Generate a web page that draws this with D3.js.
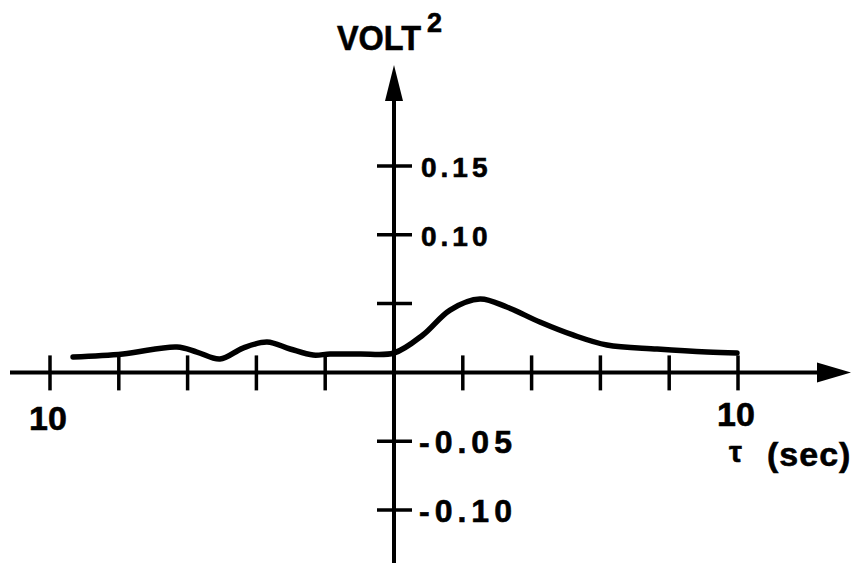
<!DOCTYPE html>
<html lang="en">
    <head>
        <meta charset="UTF-8">
        <script src="https://d3js.org/d3.v7.min.js"></script>
        <style>
            body { margin: 0; background: #fff; }
            svg { display: block; }
            text {
                font-family: "Liberation Sans", Arial, sans-serif;
                font-weight: bold;
                fill: #000;
                stroke: #000;
                stroke-width: 0.6;
            }
            .axis-line { stroke: #000; stroke-width: 4; fill: none; }
            .tick-mark { stroke: #000; stroke-width: 3.5; }
            .curve {
                fill: none;
                stroke: #000;
                stroke-width: 5.5;
                stroke-linecap: round;
                stroke-linejoin: round;
            }
        </style>
    </head>
    <body>
        <svg width="853" height="563"></svg>

        <script>
            // lag (sec) and correlation value (volt^2)
            const tau = [-9.33, -7.88, -6.31, -5.73, -5.06, -4.39, -3.69, -3.02, -2.35, -1.86, -0.99, 0,
                         0.84, 1.63, 2.50, 3.28, 4.24, 5.20, 6.19, 7.65, 9.10, 9.97];
            const volt2 = [0.0112, 0.0134, 0.0185, 0.0148, 0.0097, 0.0177, 0.0221, 0.0170, 0.0126, 0.0134, 0.0134, 0.0141,
                           0.0272, 0.0453, 0.0533, 0.0475, 0.0366, 0.0272, 0.0199, 0.0170, 0.0148, 0.0141];

            // axis ticks
            const xTicks = [-10, -8, -6, -4, -2, 0, 2, 4, 6, 8, 10];
            const xTickLabels = [{ t: -10, label: "10" }, { t: 10, label: "10" }];
            const yTicks = [0.15, 0.10, 0.05, -0.05, -0.10];
            const yTickLabels = ["0.15", "0.10", "", "-0.05", "-0.10"];

            const svg = d3.select("svg");

            const x = d3.scaleLinear().domain([-10, 10]).range([50, 738]);
            const y = d3.scaleLinear().domain([-0.10, 0.15]).range([510, 166]);

            const x0 = x(0), y0 = y(0);

            // horizontal axis with arrow
            svg.append("line").attr("class", "axis-line")
                .attr("x1", 10).attr("x2", 822).attr("y1", y0).attr("y2", y0);
            svg.append("path")
                .attr("d", `M817,${y0 - 10} L851,${y0} L817,${y0 + 10} Z`)
                .attr("fill", "#000");

            // vertical axis with arrow
            svg.append("line").attr("class", "axis-line")
                .attr("x1", x0).attr("x2", x0).attr("y1", 563).attr("y2", 98);
            svg.append("path")
                .attr("d", `M${x0 - 9},101 L${x0},65 L${x0 + 9},101 Z`)
                .attr("fill", "#000");

            // x ticks (skip 0, it sits on the vertical axis)
            svg.append("g").selectAll("line")
                .data(xTicks.filter(d => d !== 0))
                .join("line")
                .attr("class", "tick-mark")
                .attr("x1", d => x(d)).attr("x2", d => x(d))
                .attr("y1", y0 - 17).attr("y2", y0 + 18);

            svg.append("g").selectAll("text")
                .data(xTickLabels)
                .join("text")
                .attr("x", d => x(d.t) - 2)
                .attr("y", (d, i) => i === 0 ? 430 : 426)
                .attr("text-anchor", "middle")
                .style("font-size", "34px")
                .text(d => d.label);

            // y ticks
            svg.append("g").selectAll("line")
                .data(yTicks)
                .join("line")
                .attr("class", "tick-mark")
                .attr("x1", x0 - 17).attr("x2", x0 + 18)
                .attr("y1", d => y(d)).attr("y2", d => y(d));

            svg.append("g").selectAll("text")
                .data(yTicks.map((v, i) => ({ v, label: yTickLabels[i] })).filter(d => d.label))
                .join("text")
                .attr("x", d => d.v < 0 ? 419 : 421)
                .attr("y", d => y(d.v) + (d.v < 0 ? 12 : 11))
                .style("font-size", d => d.v < 0 ? "32px" : "28px")
                .style("letter-spacing", d => d.v < 0 ? "5px" : "4px")
                .text(d => d.label);

            // axis titles
            const yt = svg.append("text").attr("x", 337).attr("y", 50).style("font-size", "35px");
            yt.append("tspan").attr("textLength", 84).attr("lengthAdjust", "spacingAndGlyphs").text("VOLT");
            yt.append("tspan").attr("x", 427).attr("y", 32).style("font-size", "27px").text("2");

            svg.append("text").attr("x", 729).attr("y", 462)
                .style("font-size", "29px").text("τ");
            svg.append("text").attr("x", 767).attr("y", 466)
                .style("font-size", "34px").style("letter-spacing", "1px").text("(sec)");

            // correlation curve
            const pts = tau.map((t, i) => [t, volt2[i]]);
            const line = d3.line()
                .x(d => x(d[0]))
                .y(d => y(d[1]))
                .curve(d3.curveCatmullRom.alpha(0.5));

            svg.append("path").attr("class", "curve").attr("d", line(pts));
        </script>
    </body>
</html>
